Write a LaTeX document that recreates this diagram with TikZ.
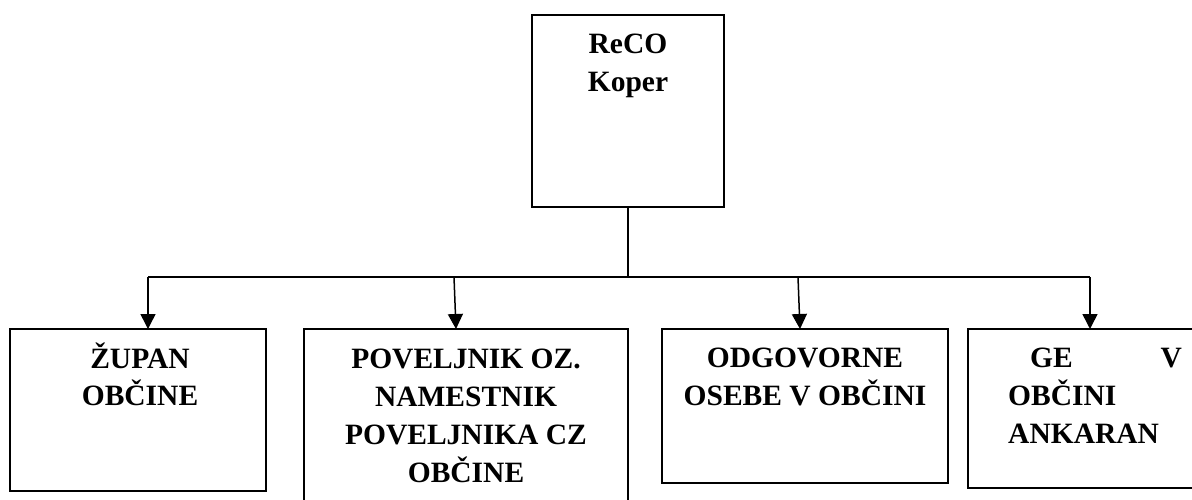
\documentclass[tikz,border=0pt]{standalone}
\usepackage{fontspec}
\setmainfont{Liberation Serif}
\usetikzlibrary{arrows.meta,calc}
\begin{document}
\begin{tikzpicture}[x=1pt,y=-1pt,
  box/.style={draw=black,line width=2pt,rectangle,outer sep=0pt,inner sep=0pt,anchor=north west},
  conn/.style={draw=black,line width=1.5pt},
  arr/.style={conn,-{Triangle[width=15pt,length=15pt]}},
  lbl/.style={font=\bfseries\fontsize{29.5}{38}\selectfont,inner sep=0pt,anchor=base}]
\useasboundingbox (0,0) rectangle (1192,499);
\clip (0,0) rectangle (1192,499);
% boxes
\node[box,minimum width=192pt,minimum height=192pt] (top) at (532,15) {};
\node[box,minimum width=256pt,minimum height=162pt] (b1) at (10,329) {};
\node[box,minimum width=324pt,minimum height=200pt] (b2) at (304,329) {};
\node[box,minimum width=286pt,minimum height=154pt] (b3) at (662,329) {};
\node[box,minimum width=260pt,minimum height=159pt] (b4) at (968,329) {};
% texts
\node[lbl] (t0a) at (628,53) {ReCO};
\node[lbl] (t0b) at (628,91) {Koper};
\node[lbl] (t1a) at (140,368) {ŽUPAN};
\node[lbl] (t1b) at (140,405) {OBČINE};
\node[lbl] (t2a) at (466,368) {POVELJNIK OZ.};
\node[lbl] (t2b) at (466,406) {NAMESTNIK};
\node[lbl] (t2c) at (466,444) {POVELJNIKA CZ};
\node[lbl] (t2d) at (466,482) {OBČINE};
\node[lbl] (t3a) at (805,367) {ODGOVORNE};
\node[lbl] (t3b) at (805,405) {OSEBE V OBČINI};
\node[lbl,anchor=base west] (t4a) at (1030,367) {GE};
\node[lbl,anchor=base east] (t4v) at (1182,367) {V};
\node[lbl,anchor=base west] (t4b) at (1008,405) {OBČINI};
\node[lbl,anchor=base west] (t4c) at (1008,443) {ANKARAN};
% connectors
\coordinate (hub) at (628,277);
\coordinate (h1) at (148,277);
\coordinate (h2) at (454,277);
\coordinate (h3) at (798,277);
\coordinate (h4) at (1090,277);
\draw[conn] (top.south -| hub) -- (hub);
\draw[conn] (h1) -- (h4);
\draw[arr] (h1) -- (h1 |- b1.north);
\draw[arr] (h2) -- ($(b2.north west)+(152,0)$);
\draw[arr] (h3) -- ($(b3.north west)+(138,0)$);
\draw[arr] (h4) -- (h4 |- b4.north);
\end{tikzpicture}
\end{document}
